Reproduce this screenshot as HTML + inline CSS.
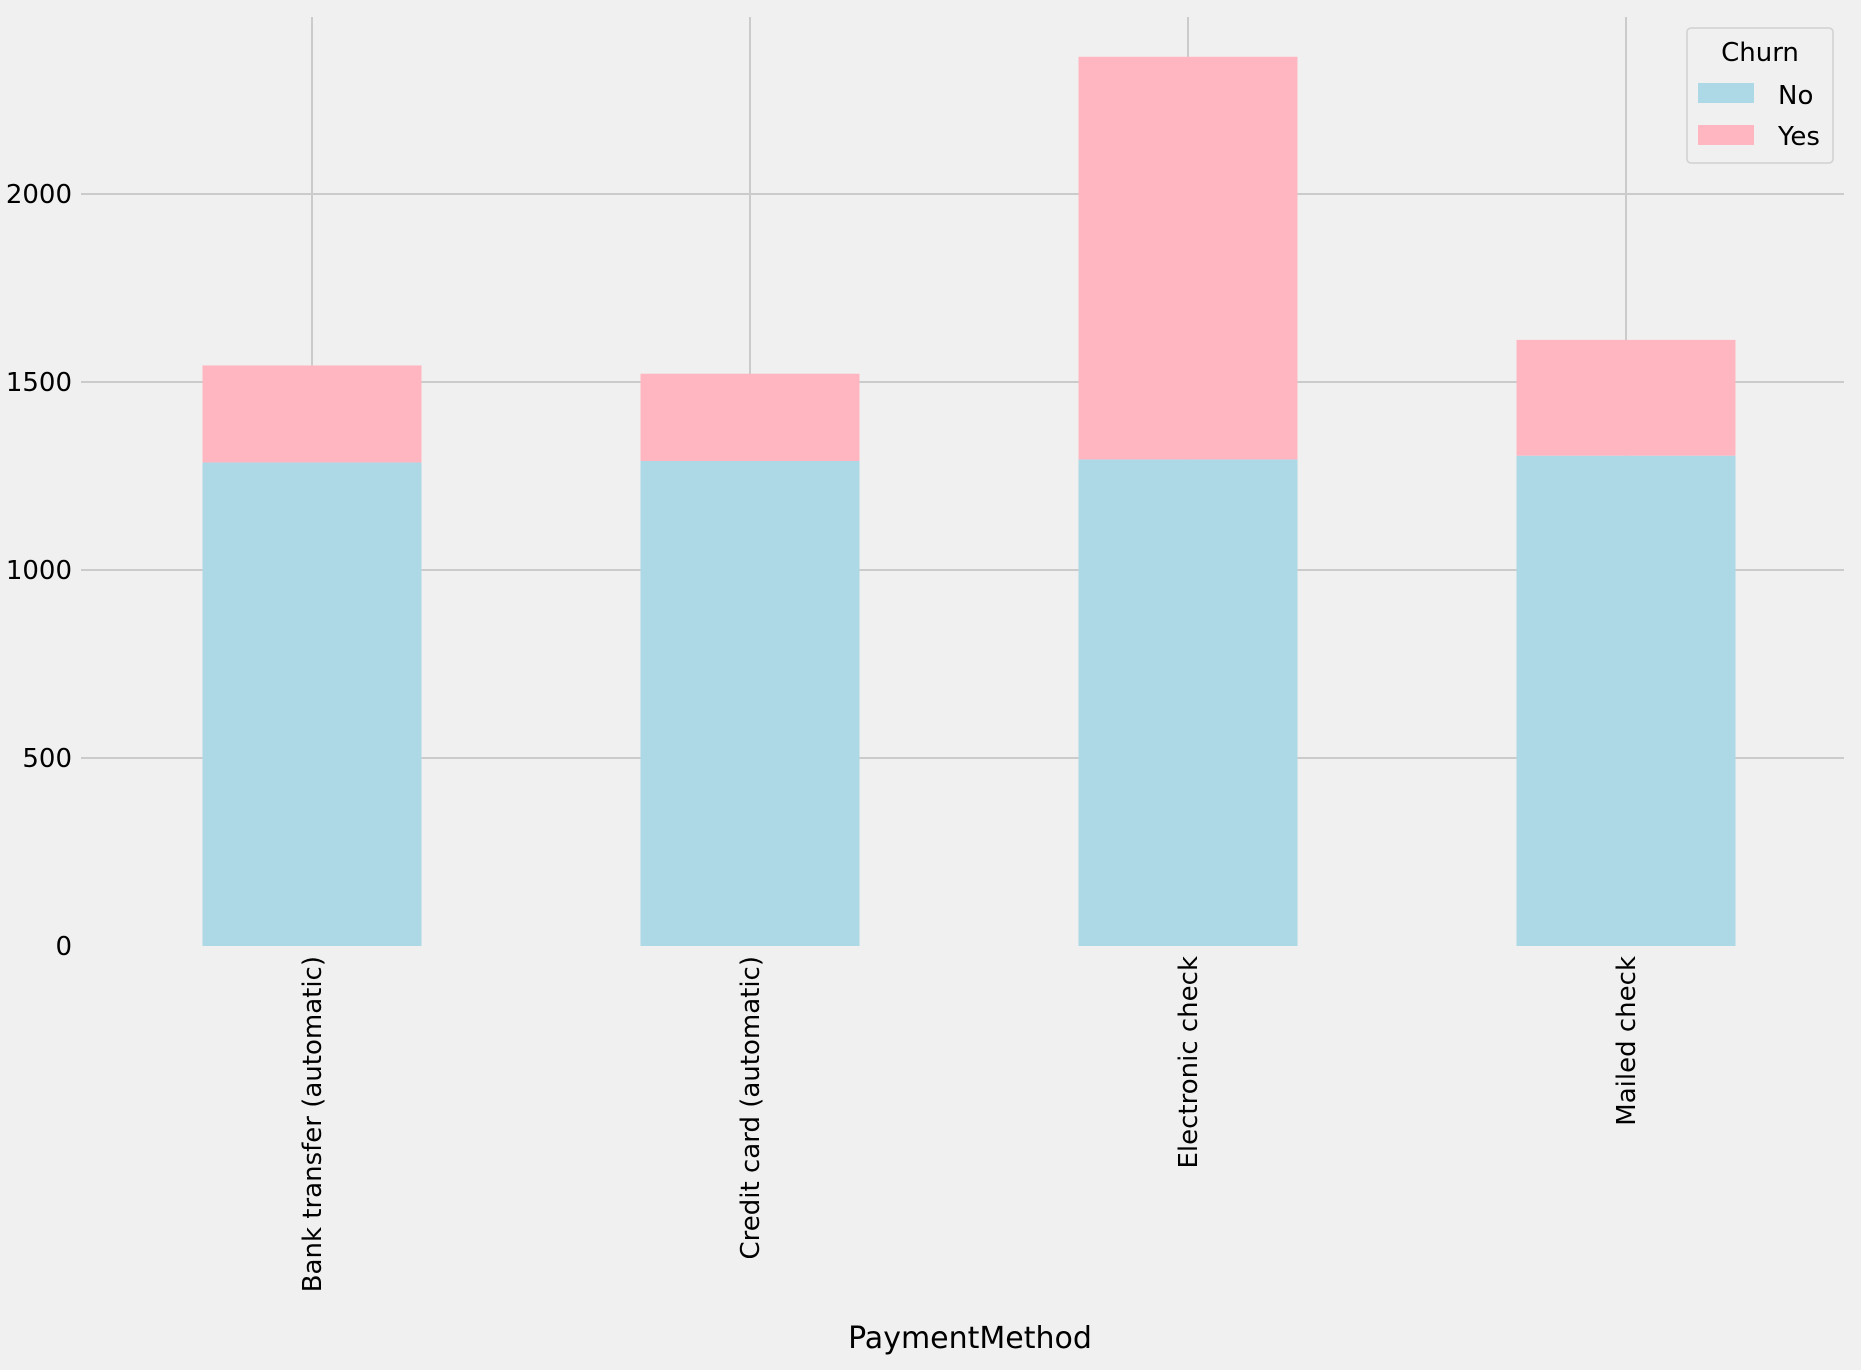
<!DOCTYPE html>
<html><head><meta charset="utf-8"><style>
body{margin:0;background:#f0f0f0;}
svg{display:block;font-family:"DejaVu Sans","Liberation Sans",sans-serif;}
</style></head><body>
<svg id="chart" width="1861" height="1370" viewBox="0 0 1861 1370">
<rect x="0" y="0" width="1861" height="1370" fill="#f0f0f0"/>
<g id="grid"></g><g id="bars"></g><g id="ticks"></g>
<text x="970" y="1348" font-size="30" text-anchor="middle" fill="#000">PaymentMethod</text>
<g>
<rect x="1687" y="28" width="146" height="135" rx="4" fill="#f0f0f0" stroke="#d0d0d0" stroke-width="1.5"/>
<text x="1760" y="61" font-size="26" text-anchor="middle">Churn</text>
<rect x="1698" y="83" width="56" height="20" fill="#add8e6"/>
<text x="1778" y="104" font-size="26">No</text>
<rect x="1698" y="125" width="56" height="20" fill="#ffb6c1"/>
<text x="1778" y="145" font-size="26">Yes</text>
</g>
</svg>
<script>
const categories=["Bank transfer (automatic)","Credit card (automatic)","Electronic check","Mailed check"];
const noValues=[1286,1290,1294,1304];
const yesValues=[258,232,1071,308];
const yTicks=[0,500,1000,1500,2000];
const NS="http://www.w3.org/2000/svg";
const y=v=>946-v*188/500;
const x=i=>312+438*i;
const bw=219;
function mk(tag,attrs,parent){const e=document.createElementNS(NS,tag);for(const k in attrs)e.setAttribute(k,attrs[k]);parent.appendChild(e);return e;}
const grid=document.getElementById('grid'),bars=document.getElementById('bars'),ticks=document.getElementById('ticks');
yTicks.forEach(t=>{
 if(t>0){const l=mk('line',{x1:81,x2:1844,y1:y(t),y2:y(t),stroke:'#cbcbcb','stroke-width':2},grid);
 
 }
 const tx=mk('text',{x:72,y:y(t)+9,'font-size':26,'text-anchor':'end',fill:'#000'},ticks);
 tx.textContent=t;
 
 
});
categories.forEach((c,i)=>{
 const g=mk('line',{x1:x(i),x2:x(i),y1:17,y2:946,stroke:'#cbcbcb','stroke-width':2},grid);
 
 
 const a=mk('rect',{x:x(i)-bw/2,y:y(noValues[i]),width:bw,height:y(0)-y(noValues[i]),fill:'#add8e6'},bars);
 
 
 const top=noValues[i]+yesValues[i];
 const b=mk('rect',{x:x(i)-bw/2,y:y(top),width:bw,height:y(noValues[i])-y(top),fill:'#ffb6c1'},bars);
 
 
 const t=mk('text',{transform:`translate(${x(i)+9},956) rotate(-90)`,'font-size':26,'text-anchor':'end',fill:'#000'},ticks);
 t.textContent=c;
 
 
});
</script>
</body></html>
